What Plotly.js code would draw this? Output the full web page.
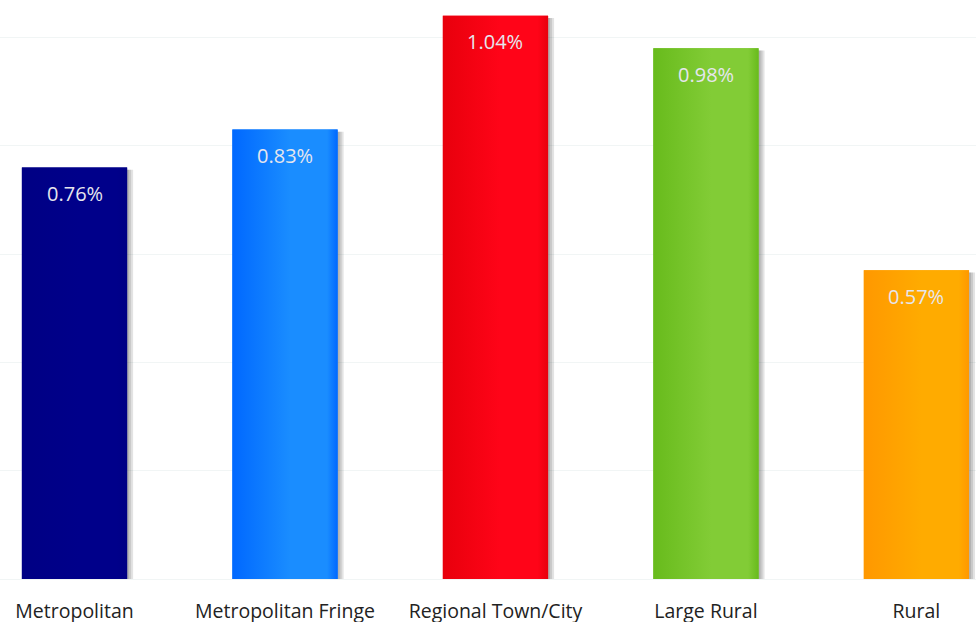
<!DOCTYPE html>
<html><head><meta charset="utf-8">
<script src="https://cdn.plot.ly/plotly-3.0.1.min.js"></script>
<style>html,body{margin:0;padding:0;background:#fff}#chart{width:976px;height:622px}</style>
</head><body><div id="chart"></div>
<script>
const categories = ["Metropolitan", "Metropolitan Fringe", "Regional Town/City", "Large Rural", "Rural"];
const values = [0.76, 0.83, 1.04, 0.98, 0.57];
const labels = ["0.76%", "0.83%", "1.04%", "0.98%", "0.57%"];
const colors = ["#000088", "#0a7cff", "#fb0010", "#77c52a", "#ffa200"];
const edgeColors = ["#000084", "#0068ff", "#e8000c", "#68bb1c", "#ff9800"];
const midColors = ["#00008a", "#1a8dff", "#ff0418", "#82cc36", "#ffab00"];

const pos = categories.map((c, i) => i);
const half = 0.25;
const px = 1 / 210.5;

const traces = [];
// soft shadow layers
[6, 4, 2].forEach(k => {
  traces.push({
    type: "bar", x: pos, y: values.map(v => v - 0.004), base: 0,
    width: 2 * half, offset: -half + k * px,
    marker: {color: "rgba(0,0,0,0.11)", line: {width: 0}},
    hoverinfo: "skip", showlegend: false
  });
});
// base bars
traces.push({
  type: "bar", x: pos, y: values,
  width: 2 * half, offset: -half,
  marker: {color: colors, line: {width: 0}},
  showlegend: false
});
// gradient overlays
pos.forEach((p, i) => {
  traces.push({
    type: "scatter", mode: "lines",
    x: [p - half, p - half, p + half, p + half],
    y: [0, values[i], values[i], 0],
    fill: "toself", line: {width: 0},
    fillgradient: {type: "horizontal",
      colorscale: [[0, edgeColors[i]], [0.55, midColors[i]], [0.9, midColors[i]], [1, edgeColors[i]]]},
    hoverinfo: "skip", showlegend: false
  });
});

const annotations = pos.map((p, i) => ({
  x: p, y: values[i], text: labels[i], showarrow: false,
  yanchor: "middle", yshift: -26,
  font: {family: "Open Sans, sans-serif", size: 20, color: "#e6e6ee"}
}));
const layout = {
  width: 976, height: 622,
  margin: {l: 0, r: 0, t: 0, b: 43},
  paper_bgcolor: "#fff", plot_bgcolor: "#fff",
  barmode: "overlay",
  xaxis: {range: [-0.354, 4.283], showgrid: false, zeroline: false,
          showline: false, ticks: "", ticklabelstandoff: 18,
          tickmode: "array", tickvals: pos, ticktext: categories,
          tickfont: {family: "Open Sans, sans-serif", size: 19.5, color: "#222"}},
  yaxis: {range: [0, 1.0693], dtick: 0.2, showgrid: true, gridcolor: "#f1f5f5", gridwidth: 1,
          zeroline: true, zerolinecolor: "#f1f5f5", showticklabels: false, ticks: ""},
  annotations: annotations
};
Plotly.newPlot("chart", traces, layout, {displayModeBar: false, staticPlot: true});
</script></body></html>
